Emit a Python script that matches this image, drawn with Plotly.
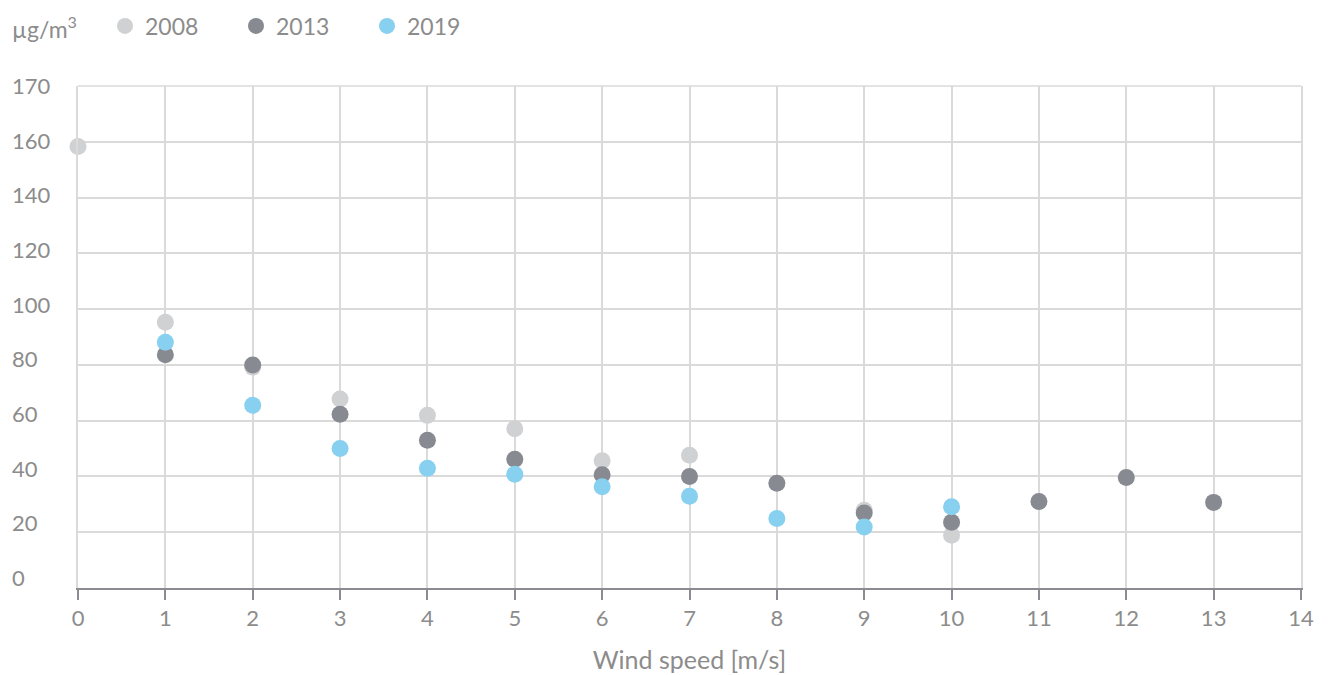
import plotly.graph_objects as go

# Wind speed classes [m/s] and mean concentration per class [µg/m³]
wind_2008 = [0, 1, 2, 3, 4, 5, 6, 7, 9, 10]
conc_2008 = [158.3, 95.3, 79.2, 67.8, 61.9, 57.1, 45.6, 47.6, 27.9, 18.9]

wind_2013 = [1, 2, 3, 4, 5, 6, 7, 8, 9, 10, 11, 12, 13]
conc_2013 = [83.6, 80.0, 62.3, 53.0, 46.2, 40.6, 40.0, 37.6, 26.9, 23.6, 31.0, 39.6, 30.7]

wind_2019 = [1, 2, 3, 4, 5, 6, 7, 8, 9, 10]
conc_2019 = [88.1, 65.5, 50.0, 42.9, 40.8, 36.3, 32.9, 24.9, 21.9, 29.1]

x_ticks = list(range(0, 15))
y_tick_vals = [0, 20, 40, 60, 80, 100, 120, 140, 160, 180]
y_tick_text = ["0", "20", "40", "60", "80", "100", "120", "140", "160", "170"]

series = [
    ("2008", wind_2008, conc_2008, "#d0d1d3"),
    ("2013", wind_2013, conc_2013, "#878a91"),
    ("2019", wind_2019, conc_2019, "#87d0ef"),
]

FONT = "Lato"
TEXT_COLOR = "#8c8c8c"
GRID = "#dadada"
AXIS = "#8a8c91"

fig = go.Figure()
for name, xs, ys, color in series:
    fig.add_trace(go.Scatter(
        x=xs, y=ys, name=name, mode="markers", cliponaxis=False,
        marker=dict(size=17, color=color, line=dict(width=0)),
    ))

W, H = 1330, 675
ML, MR, MT, MB = 78, 29, 86, 87
plot_w = W - ML - MR
plot_h = H - MT - MB

fig.update_layout(
    width=W, height=H,
    margin=dict(l=ML, r=MR, t=MT, b=MB, autoexpand=False),
    plot_bgcolor="white", paper_bgcolor="white",
    font=dict(family=FONT, color=TEXT_COLOR, size=21),
    showlegend=True,
    legend=dict(
        orientation="h",
        x=(105 - ML) / plot_w, xanchor="left",
        y=(H - MB - 26) / plot_h, yanchor="middle",
        font=dict(size=23, color=TEXT_COLOR),
        entrywidth=86, entrywidthmode="pixels",
        itemsizing="trace",
        bgcolor="rgba(0,0,0,0)",
    ),
    xaxis=dict(
        range=[0, 14], tickvals=x_ticks, ticktext=[str(v) for v in x_ticks],
        showgrid=True, gridcolor=GRID, gridwidth=1.5,
        zeroline=False,
        showline=True, linecolor=AXIS, linewidth=2,
        ticks="outside", ticklen=10, tickwidth=2, tickcolor=AXIS,
        tickfont=dict(size=22, color=TEXT_COLOR),
        title=dict(text="Wind speed [m/s]", font=dict(size=25, color=TEXT_COLOR), standoff=21),
    ),
    yaxis=dict(
        range=[0, 180], tickvals=y_tick_vals, showticklabels=False,
        showgrid=True, gridcolor=GRID, gridwidth=1.5,
        zeroline=False,
        showline=True, linecolor=GRID, linewidth=1.5, mirror=True,
        ticks="",
    ),
)

# top border of the plot area
fig.add_shape(type="line", xref="paper", yref="paper", x0=0, x1=1, y0=1, y1=1,
              line=dict(color=GRID, width=1.5), layer="below")

# left-aligned y tick labels
label_x = (10 - ML) / plot_w
for i, (v, t) in enumerate(zip(y_tick_vals, y_tick_text)):
    fig.add_annotation(
        x=label_x, xref="paper", y=v, yref="y", text=t, showarrow=False,
        xanchor="left", yanchor="middle", font=dict(size=22, color=TEXT_COLOR),
        yshift=10.7 - 1.14 * i,
    )

# unit label beside the legend
fig.add_annotation(
    x=label_x, xref="paper", y=(H - MB - 27) / plot_h, yref="paper",
    text="µg/m<sup>3</sup>", showarrow=False, xanchor="left", yanchor="middle",
    font=dict(size=23, color=TEXT_COLOR),
)

fig.write_html("out.html")
